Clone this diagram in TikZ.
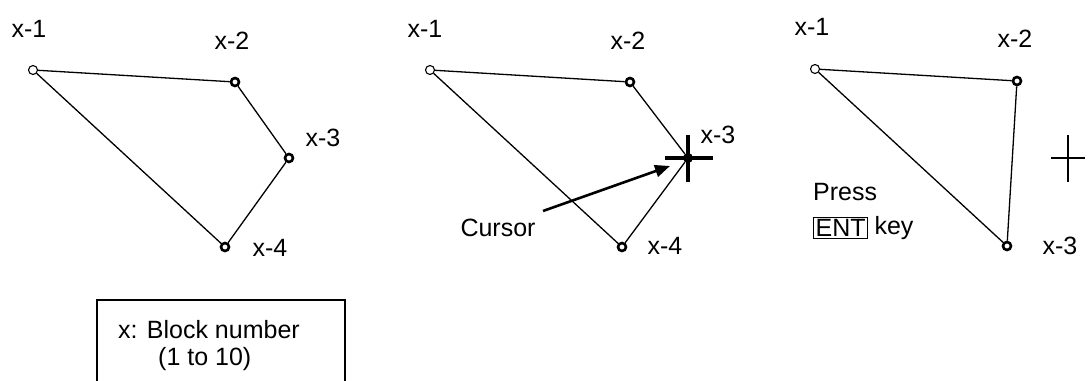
\documentclass[tikz,border=0pt]{standalone}
\usepackage{fontspec}
\setmainfont{Liberation Sans}
\usetikzlibrary{arrows.meta}
\begin{document}
\begin{tikzpicture}[x=1pt,y=-1pt,
  lbl/.style={font=\fontsize{25}{28}\selectfont, inner sep=0pt},
  openpt/.style={circle, draw, line width=1.1pt, fill=white, minimum size=9pt, inner sep=0pt},
  boldpt/.style={circle, draw, line width=2.6pt, fill=white, minimum size=8pt, inner sep=0pt},
  curpt/.style={circle, fill=black, minimum size=10pt, inner sep=0pt},
  seg/.style={line width=1.3pt},
  cross/.style={line width=3.2pt},
  thincross/.style={line width=2.2pt}
]
\useasboundingbox (0,0) rectangle (1089,380);
% ---------- panel 1
\node[openpt] (a1) at (33,70) {};
\node[boldpt] (a2) at (235,82) {};
\node[boldpt] (a3) at (289,158) {};
\node[boldpt] (a4) at (225,247) {};
\draw[seg] (a1) -- (a2);
\draw[seg] (a2) -- (a3);
\draw[seg] (a3) -- (a4);
\draw[seg] (a4) -- (a1);
\node[lbl] (la1) at (29,29) {x-1};
\node[lbl] (la2) at (232,41) {x-2};
\node[lbl] (la3) at (323,138) {x-3};
\node[lbl] (la4) at (270,248) {x-4};
% ---------- panel 2
\node[openpt] (b1) at (430,70) {};
\node[boldpt] (b2) at (630,82) {};
\node[curpt] (b3) at (688,158) {};
\node[boldpt] (b4) at (622,247) {};
\draw[seg] (b1) -- (b2);
\draw[seg] (b2) -- (b3);
\draw[seg] (b3) -- (b4);
\draw[seg] (b4) -- (b1);
\coordinate (bh1) at (665,158);
\coordinate (bh2) at (713,158);
\coordinate (bv1) at (688,135);
\coordinate (bv2) at (688,182);
\draw[cross] (bh1) -- (bh2);
\draw[cross] (bv1) -- (bv2);
\node[lbl] (lb1) at (425,29) {x-1};
\node[lbl] (lb2) at (628,41) {x-2};
\node[lbl] (lb3) at (718,135) {x-3};
\node[lbl] (lb4) at (665,246) {x-4};
\node[lbl] (cur) at (498,228) {Cursor};
\coordinate (arrs) at (543,211);
\coordinate (arre) at (670,166);
\draw[line width=2.6pt, -{Triangle[length=15pt,width=12pt]}] (arrs) -- (arre);
% ---------- panel 3
\node[openpt] (c1) at (815,69) {};
\node[boldpt] (c2) at (1017,81) {};
\node[boldpt] (c3) at (1007,246) {};
\draw[seg] (c1) -- (c2);
\draw[seg] (c2) -- (c3);
\draw[seg] (c3) -- (c1);
\node[lbl] (lc1) at (812,27) {x-1};
\node[lbl] (lc2) at (1015,39) {x-2};
\node[lbl] (lc3) at (1060,246) {x-3};
\coordinate (ch1) at (1051,158);
\coordinate (ch2) at (1085,158);
\coordinate (cv1) at (1068,135);
\coordinate (cv2) at (1068,182);
\draw[thincross] (ch1) -- (ch2);
\draw[thincross] (cv1) -- (cv2);
\node[lbl, anchor=west] (press) at (813,192) {Press};
\node[lbl, draw, line width=1.3pt, inner sep=2pt, anchor=west] (ent) at (813,228) {ENT};
\node[lbl, anchor=west] (key) at ([xshift=6pt]ent.east) {key};
% ---------- legend box
\coordinate (bx1) at (97,382);
\coordinate (bx2) at (97,300);
\coordinate (bx3) at (345,300);
\coordinate (bx4) at (345,382);
\draw[line width=1.3pt] (bx1) -- (bx2) -- (bx3) -- (bx4);
\node[lbl, anchor=base west] (leg1) at (118,338) {x: Block number};
\node[lbl, anchor=base west] (leg2) at (158,365) {(1 to 10)};
\end{tikzpicture}
\end{document}
